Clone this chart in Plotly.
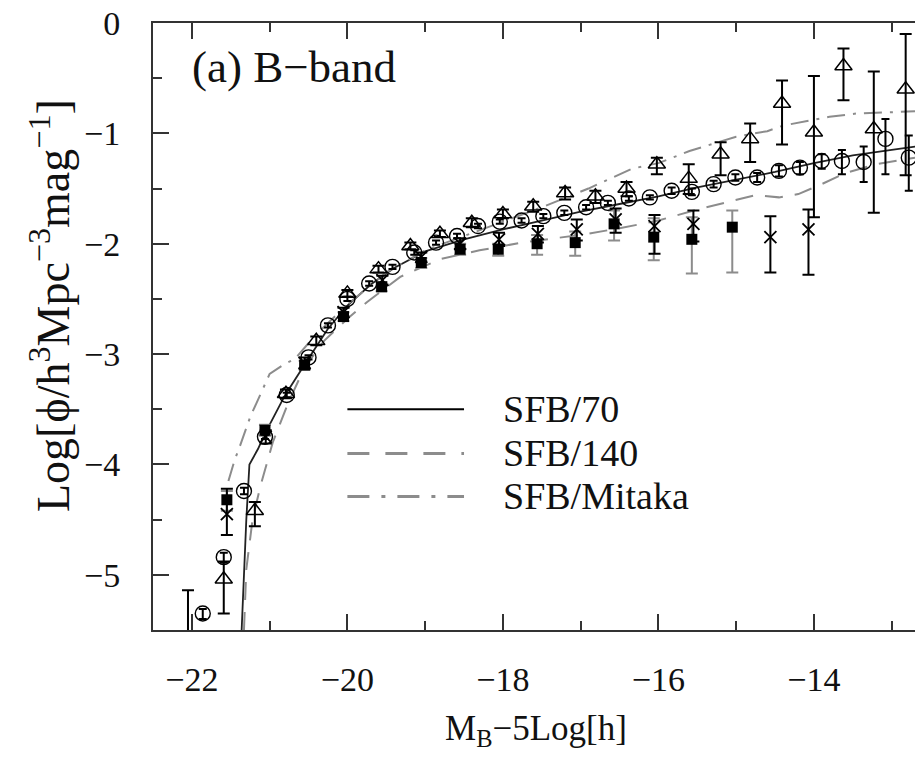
import plotly.graph_objects as go

# ---------------- data ----------------
circle_x = [-21.86, -21.59, -21.33, -21.06, -20.78, -20.50, -20.25, -20.00, -19.72, -19.42,
            -19.14, -18.86, -18.59, -18.32, -18.04, -17.76, -17.48, -17.21, -16.93, -16.65,
            -16.38, -16.11, -15.83, -15.57, -15.29, -15.01, -14.73, -14.45, -14.18, -13.90,
            -13.64, -13.36, -13.08, -12.78]
circle_y = [-5.35, -4.84, -4.24, -3.75, -3.37, -3.03, -2.74, -2.50, -2.36, -2.21,
            -2.08, -1.99, -1.93, -1.84, -1.80, -1.79, -1.75, -1.72, -1.67, -1.63,
            -1.59, -1.58, -1.52, -1.53, -1.46, -1.40, -1.40, -1.34, -1.31, -1.25,
            -1.25, -1.26, -1.05, -1.22]
circle_ep = [0.04, 0.04, 0.03, 0.02, 0.02, 0.02, 0.02, 0.02, 0.02, 0.02,
             0.02, 0.02, 0.02, 0.02, 0.02, 0.02, 0.02, 0.02, 0.02, 0.02,
             0.02, 0.02, 0.03, 0.03, 0.03, 0.03, 0.04, 0.05, 0.05, 0.06,
             0.10, 0.14, 0.18, 0.20]
circle_em = [0.05, 0.05, 0.03, 0.02, 0.02, 0.02, 0.02, 0.02, 0.02, 0.02,
             0.02, 0.02, 0.02, 0.02, 0.02, 0.02, 0.02, 0.02, 0.02, 0.02,
             0.02, 0.02, 0.03, 0.03, 0.03, 0.03, 0.04, 0.05, 0.06, 0.07,
             0.12, 0.18, 0.32, 0.30]

tri_x = [-21.59, -21.19, -20.79, -20.40, -20.00, -19.60, -19.19, -18.81, -18.40, -18.00,
         -17.61, -17.20, -16.81, -16.41, -16.02, -15.61, -15.20, -14.82, -14.41, -14.00,
         -13.62, -13.23, -12.82]
tri_y = [-5.04, -4.42, -3.36, -2.88, -2.45, -2.23, -2.02, -1.91, -1.81, -1.73,
         -1.66, -1.54, -1.57, -1.50, -1.28, -1.41, -1.19, -1.05, -0.73, -0.99,
         -0.39, -0.96, -0.60]
tri_ep = [0.16, 0.08, 0.04, 0.04, 0.03, 0.03, 0.03, 0.03, 0.04, 0.04,
          0.04, 0.05, 0.05, 0.06, 0.06, 0.13, 0.11, 0.14, 0.21, 0.51,
          0.16, 0.52, 0.50]
tri_em = [0.31, 0.14, 0.04, 0.04, 0.03, 0.03, 0.03, 0.03, 0.04, 0.04,
          0.05, 0.06, 0.06, 0.07, 0.09, 0.14, 0.19, 0.21, 0.37, 0.77,
          0.31, 0.76, 0.78]

sq_x = [-21.55, -21.06, -20.55, -20.05, -19.56, -19.05, -18.55, -18.06, -17.56, -17.07,
        -16.57, -16.06, -15.57, -15.05]
sq_y = [-4.32, -3.69, -3.10, -2.66, -2.39, -2.17, -2.05, -2.05, -2.00, -1.99,
        -1.82, -1.94, -1.96, -1.85]
sq_ep = [0.08, 0.05, 0.04, 0.04, 0.04, 0.04, 0.05, 0.05, 0.08, 0.10, 0.12, 0.17, 0.20, 0.15]
sq_em = [0.10, 0.05, 0.04, 0.04, 0.04, 0.05, 0.05, 0.06, 0.10, 0.12, 0.15, 0.21, 0.31, 0.41]

cr_x = [-22.05, -21.55, -21.05, -20.55, -20.05, -19.55, -19.05, -18.55, -18.05, -17.55,
        -17.05, -16.55, -16.05, -15.55, -14.56, -14.07]
cr_y = [-5.80, -4.45, -3.75, -3.08, -2.62, -2.33, -2.12, -2.00, -1.96, -1.91,
        -1.87, -1.78, -1.84, -1.82, -1.94, -1.87]
cr_ep = [0.66, 0.23, 0.06, 0.05, 0.04, 0.04, 0.04, 0.05, 0.06, 0.07,
         0.09, 0.10, 0.10, 0.12, 0.19, 0.18]
cr_em = [0.50, 0.19, 0.06, 0.05, 0.04, 0.04, 0.04, 0.05, 0.06, 0.08,
         0.10, 0.12, 0.25, 0.16, 0.32, 0.41]

sfb70_x = [-21.36, -21.33, -21.30, -21.26, -21.15, -21.06, -20.80, -20.50, -20.25, -20.00,
           -19.70, -19.40, -19.00, -18.50, -18.00, -17.50, -17.00, -16.50, -16.00, -15.50,
           -15.00, -14.50, -14.00, -13.50, -13.00, -12.70]
sfb70_y = [-5.50, -5.00, -4.50, -4.00, -3.86, -3.72, -3.37, -3.04, -2.77, -2.56,
           -2.37, -2.22, -2.07, -1.96, -1.87, -1.79, -1.71, -1.64, -1.57, -1.49,
           -1.42, -1.35, -1.27, -1.20, -1.15, -1.12]

sfb140_x = [-21.33, -21.30, -21.22, -21.12, -21.02, -20.96, -20.76, -20.55, -20.30, -20.00,
            -19.75, -19.32, -18.81, -18.30, -17.76, -17.00, -16.50, -16.00, -15.50, -15.00,
            -14.75, -14.45, -14.20, -13.90, -13.60, -13.20, -12.70]
sfb140_y = [-5.50, -4.95, -4.50, -4.20, -3.95, -3.80, -3.44, -3.12, -2.88, -2.68,
            -2.53, -2.30, -2.14, -2.06, -1.99, -1.92, -1.86, -1.79, -1.69, -1.60,
            -1.56, -1.58, -1.55, -1.46, -1.36, -1.28, -1.22]

mitaka_x = [-21.53, -21.45, -21.38, -21.25, -21.00, -20.83, -20.67, -20.40, -20.00, -19.50,
            -19.00, -18.50, -18.00, -17.50, -16.90, -16.34, -16.00, -15.60, -15.00, -14.60,
            -14.40, -13.80, -13.45, -13.15, -12.70]
mitaka_y = [-4.15, -3.96, -3.83, -3.57, -3.18, -3.10, -3.04, -2.82, -2.55, -2.26,
            -2.06, -1.93, -1.80, -1.67, -1.50, -1.32, -1.27, -1.16, -1.03, -0.98,
            -0.93, -0.85, -0.82, -0.81, -0.80]

legend_names = ["SFB/70", "SFB/140", "SFB/Mitaka"]
x_ticks = [-22, -20, -18, -16, -14]
y_ticks = [0, -1, -2, -3, -4, -5]

FONT = "Liberation Serif"
GREY = "#8c8c8c"

fig = go.Figure()

# model curves
fig.add_trace(go.Scatter(x=sfb70_x, y=sfb70_y, mode="lines",
                         line=dict(color="#222222", width=1.8), showlegend=False))
fig.add_trace(go.Scatter(x=sfb140_x, y=sfb140_y, mode="lines",
                         line=dict(color=GREY, width=2, dash="18px,12px"), showlegend=False))
fig.add_trace(go.Scatter(x=mitaka_x, y=mitaka_y, mode="lines",
                         line=dict(color=GREY, width=2, dash="18px,8px,3px,8px"), showlegend=False))

# data points
fig.add_trace(go.Scatter(x=sq_x, y=sq_y, mode="markers",
                         marker=dict(symbol="square", size=11, color="black"),
                         error_y=dict(type="data", array=sq_ep, arrayminus=sq_em,
                                      color=GREY, thickness=2, width=6),
                         showlegend=False))
fig.add_trace(go.Scatter(x=cr_x, y=cr_y, mode="markers",
                         marker=dict(symbol="x-thin-open", size=12, color="black",
                                     line=dict(width=1.8, color="black")),
                         error_y=dict(type="data", array=cr_ep, arrayminus=cr_em,
                                      color="black", thickness=2, width=6),
                         showlegend=False))
fig.add_trace(go.Scatter(x=tri_x, y=tri_y, mode="markers",
                         marker=dict(symbol="triangle-up-open", size=15, color="black",
                                     line=dict(width=1.5, color="black")),
                         error_y=dict(type="data", array=tri_ep, arrayminus=tri_em,
                                      color="black", thickness=2, width=6),
                         showlegend=False))
fig.add_trace(go.Scatter(x=circle_x, y=circle_y, mode="markers",
                         marker=dict(symbol="circle-open", size=15, color="black",
                                     line=dict(width=1.4, color="black")),
                         error_y=dict(type="data", array=circle_ep, arrayminus=circle_em,
                                      color="black", thickness=2, width=4),
                         showlegend=False))

# legend drawn inside the plot
leg_styles = [dict(color="black", width=2, dash="solid"),
              dict(color=GREY, width=3, dash="22px,16px"),
              dict(color=GREY, width=3, dash="22px,12px,4px,12px")]
leg_y = [-3.50, -3.90, -4.29]
for name, st, yy in zip(legend_names, leg_styles, leg_y):
    fig.add_shape(type="line", xref="x", yref="y", x0=-20.0, x1=-18.5, y0=yy, y1=yy,
                  line=st)
    fig.add_annotation(x=-18.02, y=yy, xref="x", yref="y", text=name, showarrow=False,
                       xanchor="left", yanchor="middle",
                       font=dict(family=FONT, size=38, color="#111"))

fig.add_annotation(x=-22.02, y=-0.40, xref="x", yref="y", text="(a) B\u2212band",
                   showarrow=False, xanchor="left", yanchor="middle",
                   font=dict(family=FONT, size=45, color="#111"))

# axis titles
fig.add_annotation(x=(536 - 153) / 762, y=(630 - 730) / 607, xref="paper", yref="paper",
                   text="M<sub>B</sub>\u22125Log[h]", showarrow=False,
                   xanchor="center", yanchor="middle",
                   font=dict(family=FONT, size=35, color="#111"))
fig.add_annotation(x=(50 - 153) / 762, y=(630 - 306) / 607, xref="paper", yref="paper",
                   text="Log[\u03d5/h<sup>3</sup>Mpc<sup>\u22123</sup>mag<sup>\u22121</sup>]",
                   showarrow=False, textangle=-90, xanchor="center", yanchor="middle",
                   font=dict(family=FONT, size=46, color="#111"))

axis_common = dict(showline=True, linecolor="#333", linewidth=2, ticks="inside",
                   tickcolor="#333", tickwidth=2, ticklen=16, showgrid=False, zeroline=False,
                   automargin=False, ticklabeloverflow="allow",
                   tickfont=dict(family=FONT, size=34, color="#111"))

fig.update_xaxes(range=[-22.5, -12.7], tickvals=x_ticks,
                 ticktext=["\u2212" + str(abs(v)) for v in x_ticks],
                 mirror="ticks", ticklabelstandoff=18,
                 minor=dict(dtick=1, tick0=-22, ticks="inside", ticklen=9, tickwidth=1.5,
                            tickcolor="#333"),
                 **axis_common)
fig.update_yaxes(range=[-5.5, 0], tickvals=y_ticks,
                 ticktext=["0" if v == 0 else "\u2212" + str(abs(v)) for v in y_ticks],
                 mirror=False, ticklabelstandoff=24,
                 minor=dict(dtick=0.5, tick0=0, ticks="inside", ticklen=9, tickwidth=1.5,
                            tickcolor="#333"),
                 **axis_common)

fig.update_layout(width=915, height=757, margin=dict(l=153, r=0, t=23, b=127),
                  plot_bgcolor="white", paper_bgcolor="white", showlegend=False)

# remove the page's default body margin so the figure sits at the window origin
fig.write_html("out.html", config={"displayModeBar": False},
               post_script="document.body.style.margin='0';"
                           "document.body.style.overflow='hidden';")
